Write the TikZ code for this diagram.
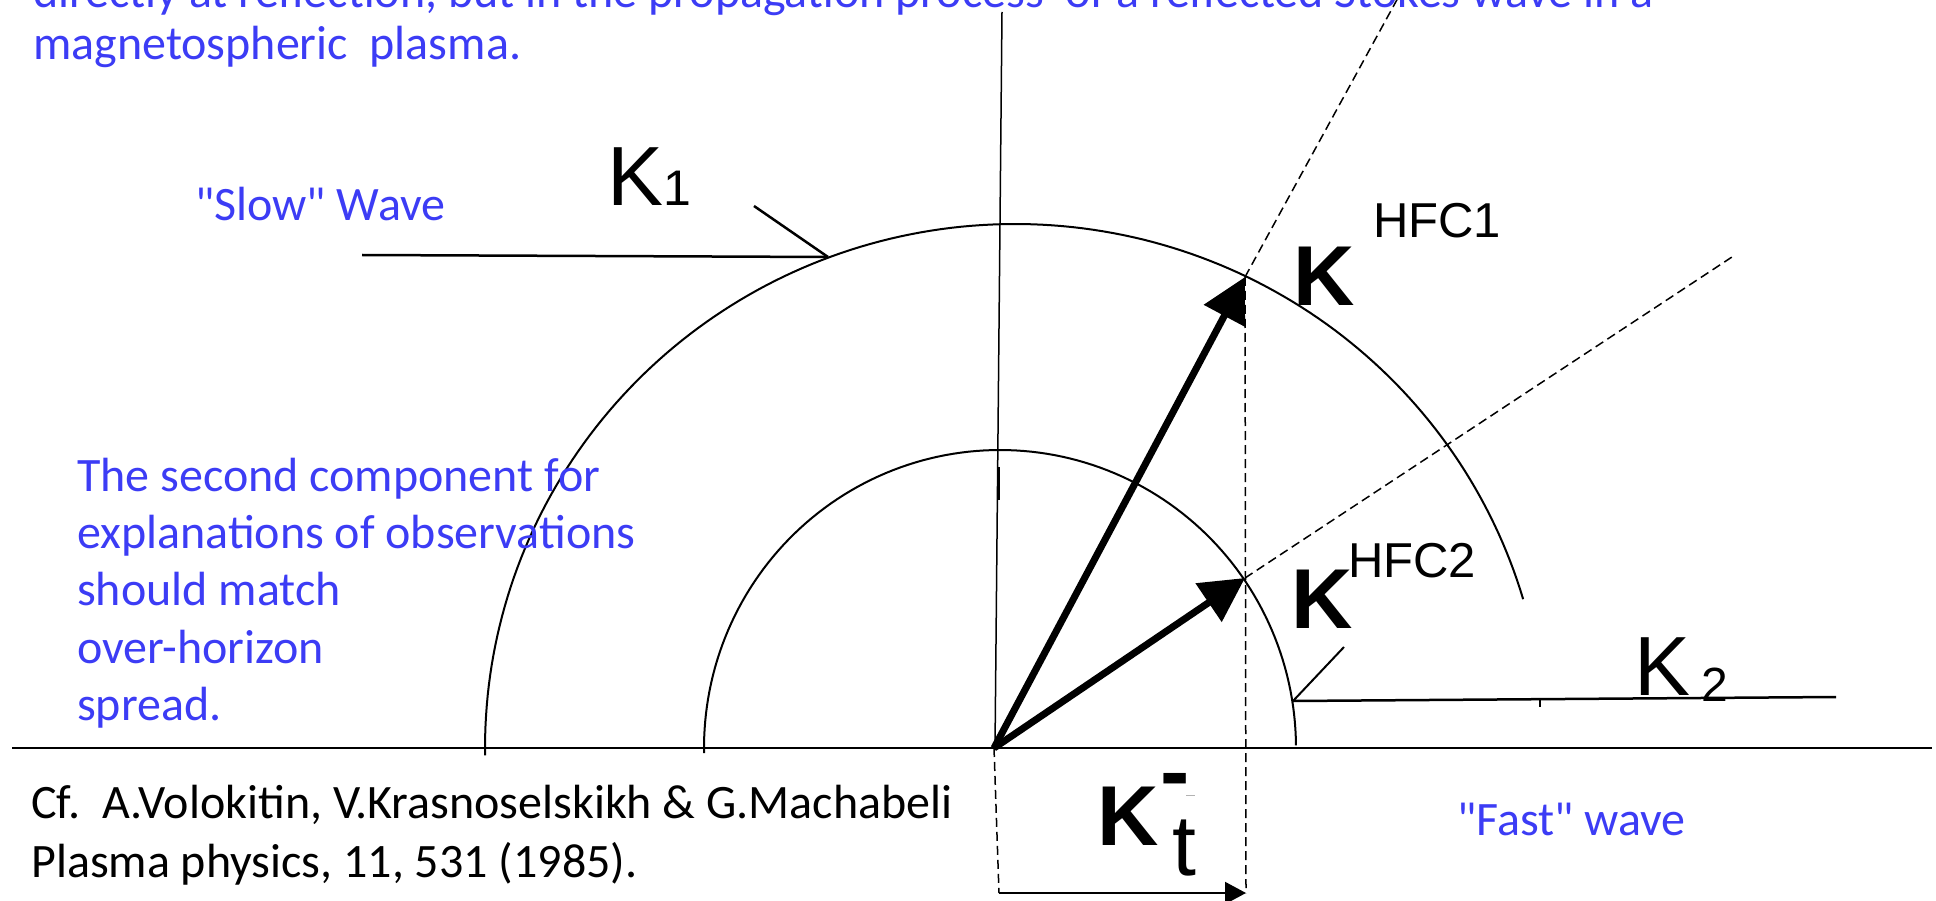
\documentclass[tikz,border=0pt]{standalone}
\usepackage{fontspec}
\setmainfont{Carlito}[Ligatures=TeXOff]
\newfontfamily\arialf{Liberation Sans}
\usetikzlibrary{arrows.meta}
\definecolor{txtblue}{RGB}{60,60,245}
\tikzset{
  bluetxt/.style={text=txtblue, font=\fontsize{48}{57}\selectfont, anchor=base west, inner sep=0pt},
  blacktxt/.style={text=black, font=\fontsize{48}{57}\selectfont, anchor=base west, inner sep=0pt},
  lbl/.style={inner sep=0pt, anchor=base west},
  kreg/.style={font=\arialf\fontsize{84}{84}\selectfont},
  kbold/.style={font=\arialf\bfseries\fontsize{85}{85}\selectfont},
  supsz/.style={font=\arialf\fontsize{49}{49}\selectfont},
  thinline/.style={line width=1.5pt},
  curve/.style={line width=2pt},
  pointer/.style={line width=2.5pt},
  vec/.style={line width=7pt, -{Triangle[length=44pt,width=45pt]}},
  proj/.style={line width=1.5pt, dash pattern=on 9pt off 5pt},
}
\begin{document}
\begin{tikzpicture}[x=1pt,y=-1pt]
\useasboundingbox (0,0) rectangle (1936,901);
\clip (0,0) rectangle (1936,901);

% key points
\coordinate (O) at (994,748);
\coordinate (T1) at (1245,277);
\coordinate (T2) at (1245,578);
\coordinate (E1) at (1399,-4);
\coordinate (E2) at (1735,255);
\coordinate (V1) at (1246,893);
\coordinate (V0) at (999,893);
\coordinate (AxL) at (12,748);
\coordinate (AxR) at (1932,748);
\coordinate (VtT) at (1002,12);
\coordinate (VtB) at (995,748);
\coordinate (S1) at (998,467);
\coordinate (S2) at (998,500);
\coordinate (P1) at (828,257);
\coordinate (P1a) at (362,255);
\coordinate (P1b) at (754,206);
\coordinate (P2) at (1293,701);
\coordinate (P2a) at (1836,697);
\coordinate (P2b) at (1344,647);
\coordinate (Tk1) at (1540,700);
\coordinate (Tk2) at (1540,707);

% texts at top
\node[bluetxt] (top1) at (33,8) {directly at reflection, but in the propagation process\ \ of a reflected Stokes wave in a};
\node[bluetxt] (top2) at (33,60) {magnetospheric\ \ plasma.};

% axes
\draw[curve] (AxL) -- (AxR);
\draw[thinline] (VtT) -- (VtB);
\draw[line width=3pt] (S1) -- (S2);

% wave surfaces
\draw[curve] plot[domain=180.8:16.5, samples=150] ({1015+530*cos(\x)}, {748-524*sin(\x)});
\draw[curve] plot[domain=181:0.5, samples=120] ({1000+296*cos(\x)}, {748-298*sin(\x)});

% dashed constructions
\draw[proj] (T1) -- (E1);
\draw[proj] (T2) -- (E2);
\draw[proj] (T1) -- (V1);
\draw[proj] (O) -- (V0);
\draw[line width=2pt, -{Triangle[length=21pt,width=22pt]}] (V0) -- (V1);

% vectors
\draw[vec] (O) -- (T1);
\draw[vec] (O) -- (T2);

% pointers
\draw[pointer] (P1a) -- (P1);
\draw[pointer] (P1b) -- (P1);
\draw[pointer] (P2) -- (P2a);
\draw[curve] (P2b) -- (P2);
\draw[thinline] (Tk1) -- (Tk2);

% labels
\node[lbl, kreg] (K1) at (607,206) {K\fontsize{50}{50}\selectfont 1};
\node[lbl, kreg] (K2) at (1634,695) {K\hspace{11pt}\fontsize{48}{48}\selectfont\raisebox{-6pt}{2}};
\node[lbl, kbold] (KH1) at (1293,306) {K};
\node[lbl, supsz] (H1) at (1373,238) {HFC1};
\node[lbl, kbold] (KH2) at (1291,628) {K};
\node[lbl, supsz] (H2) at (1348,577) {HFC2};
\node[lbl, kbold] (Kt) at (1097,845) {K};
\node[lbl, font=\arialf\fontsize{86}{86}\selectfont] (tsub) at (1172,875) {t};
\node[lbl, font=\arialf\bfseries\fontsize{88}{88}\selectfont] (bar) at (1160,801) {-};
\draw[gray!60, line width=1pt] (1186,795) -- (1195,795);

\node[bluetxt] (slow) at (195,221) {"Slow" Wave};
\node[bluetxt] (fast) at (1457,835) {"Fast" wave};

\node[bluetxt] (p1) at (77,491) {The second component for};
\node[bluetxt] (p2) at (77,548) {explanations of observations};
\node[bluetxt] (p3) at (77,605.5) {should match};
\node[bluetxt] (p4) at (77,663) {over-horizon};
\node[bluetxt] (p5) at (77,720) {spread.};

\node[blacktxt] (cit1) at (31,818) {Cf.\ \ A.Volokitin, V.Krasnoselskikh \& G.Machabeli};
\node[blacktxt] (cit2) at (31,877) {Plasma physics, 11, 531 (1985).};
\end{tikzpicture}
\end{document}
